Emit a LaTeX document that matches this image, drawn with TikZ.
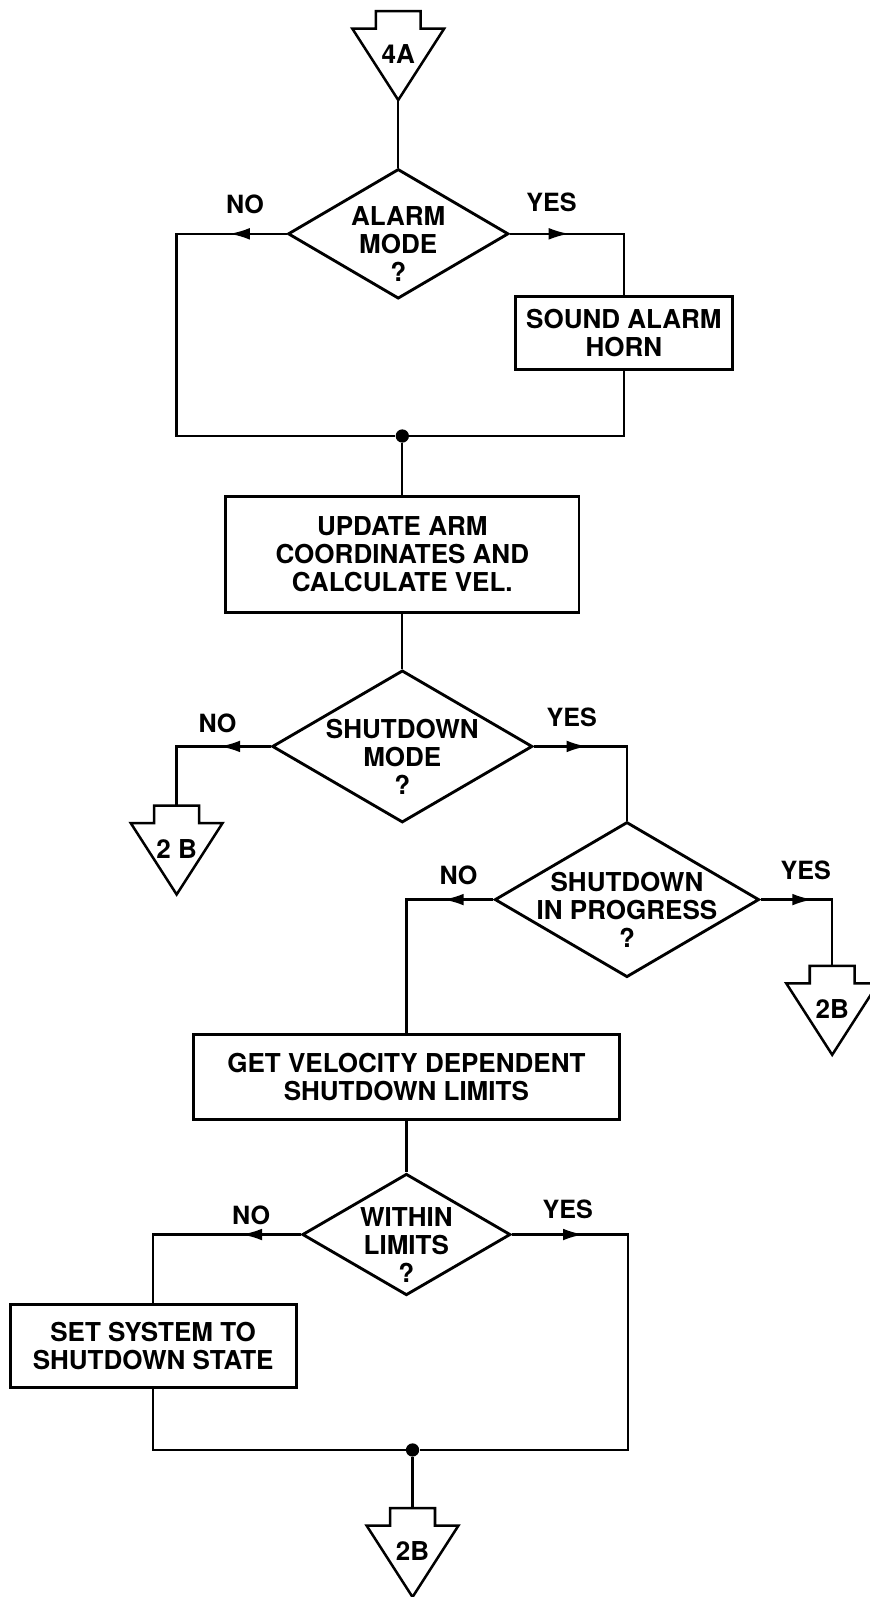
\documentclass[tikz,border=0pt]{standalone}
\usepackage{fontspec}
\setmainfont{TeX Gyre Heros}
\usetikzlibrary{shapes.geometric}
\usetikzlibrary{arrows.meta}
\usetikzlibrary{decorations.markings}
\tikzset{x=0.02cm, y=-0.02cm,
    every node/.style={
        font=\bfseries\fontsize{14.5}{15.5}\selectfont},
    box/.style={
        draw,
        line width=1.6pt,
        align=center,
        inner sep=0pt},
    decision/.style={
        diamond,
        draw,
        line width=1.6pt,
        inner sep=0pt,
        label={[align=center, yshift=-2mm]center:#1}},
    junction/.style={
        circle,
        fill,
        inner sep=0pt,
        minimum size=2.6mm},
    answer/.style={
        font=\bfseries\fontsize{14}{15}\selectfont},
    wire/.style={
        line width=1.3pt},
    flow/.style={
        wire,
        postaction={decorate},
        decoration={markings,
            mark=at position #1 with {\arrow{Latex[length=4mm,width=2.3mm]}}}},
    pics/offpage/.style={code={
        \draw[line width=1.4pt] (-22,0) -- (22,0) -- (22,17) -- (45,17)
            -- (0,87) -- (-45,17) -- (-22,17) -- cycle;
        \node (-txt) at (0,42) {#1};
        \coordinate (-top) at (0,0);
        \coordinate (-tip) at (0,87);
    }}}

\begin{document}
\begin{tikzpicture}
        \useasboundingbox (0,0) rectangle (852,1564);

        % alarm part
        \pic (c4a) at (390,11) {offpage=4A};
        \node[decision={ALARM\\MODE\\?}, minimum width=4.32cm, minimum height=2.54cm] (alarm) at (390,229) {};
        \node[box, minimum width=4.26cm, minimum height=1.44cm] (sound) at (611,326) {SOUND ALARM\\HORN};
        \node[junction] (dot1) at (394,427) {};
        \coordinate (lft1) at (173,427);
        \node[answer] (no1) at (240,200) {NO};
        \node[answer] (yes1) at (540,198) {YES};

        \draw[wire] (c4a-tip) -- (alarm.north);
        \draw[flow=1.12cm] (alarm.west) -| (lft1) -- (dot1);
        \draw[flow=1.16cm] (alarm.east) -| (sound.north);
        \draw[wire] (sound.south) |- (dot1);

        % shutdown checks
        \node[box, minimum width=6.92cm, minimum height=2.26cm] (update) at (394,543) {UPDATE ARM\\COORDINATES AND\\CALCULATE VEL.};
        \node[decision={SHUTDOWN\\MODE\\?}, minimum width=5.1cm, minimum height=2.98cm] (sdmode) at (394,731) {};
        \pic (c2bl) at (173,789) {offpage=2 B};
        \node[decision={SHUTDOWN\\IN PROGRESS\\?}, minimum width=5.18cm, minimum height=3.04cm] (sdprog) at (614,881) {};
        \pic (c2br) at (815,946) {offpage=2B};
        \node[answer] (no2) at (213,708) {NO};
        \node[answer] (yes2) at (560,703) {YES};
        \node[answer] (no3) at (449,857) {NO};
        \node[answer] (yes3) at (789,852) {YES};

        \draw[wire] (dot1) -- (update.north);
        \draw[wire] (update.south) -- (sdmode.north);
        \draw[flow=1.0cm] (sdmode.west) -| (c2bl-top);
        \draw[flow=1.04cm] (sdmode.east) -| (sdprog.north);
        \draw[flow=1.02cm] (sdprog.east) -| (c2br-top);

        % limits
        \node[box, minimum width=8.34cm, minimum height=1.66cm] (getvel) at (398,1055) {GET VELOCITY DEPENDENT\\SHUTDOWN LIMITS};
        \node[decision={WITHIN\\LIMITS\\?}, minimum width=4.08cm, minimum height=2.38cm] (within) at (398,1209) {};
        \node[box, minimum width=5.6cm, minimum height=1.62cm] (setsys) at (150,1318) {SET SYSTEM TO\\SHUTDOWN STATE};
        \node[junction] (dot2) at (404,1420) {};
        \coordinate (rgt2) at (615,1420);
        \pic (c2bb) at (404,1477) {offpage=2B};
        \node[answer] (no4) at (246,1190) {NO};
        \node[answer] (yes4) at (556,1184) {YES};

        \draw[flow=0.98cm] (sdprog.west) -| (getvel.north);
        \draw[wire] (getvel.south) -- (within.north);
        \draw[flow=1.16cm] (within.west) -| (setsys.north);
        \draw[flow=1.4cm] (within.east) -| (rgt2) -- (dot2);
        \draw[wire] (setsys.south) |- (dot2);
        \draw[wire] (dot2) -- (c2bb-top);
    \end{tikzpicture}
\end{document}
